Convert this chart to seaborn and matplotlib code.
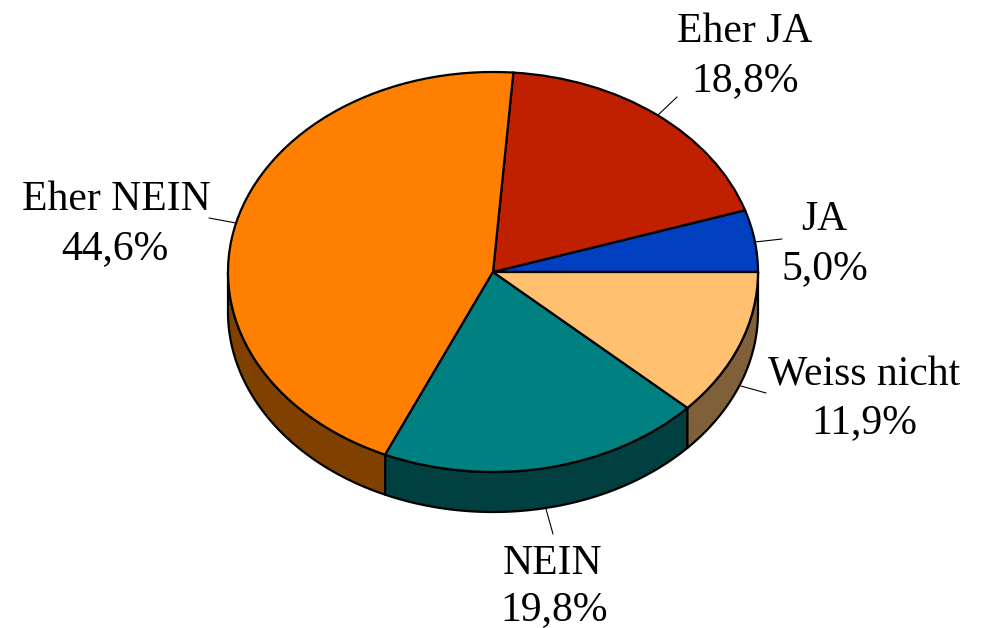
import numpy as np
import matplotlib
matplotlib.use("Agg")
import matplotlib.pyplot as plt
import seaborn as sns

labels = ["JA", "Eher JA", "Eher NEIN", "NEIN", "Weiss nicht"]
pct_text = ["5,0%", "18,8%", "44,6%", "19,8%", "11,9%"]
values = [5.0, 18.8, 44.6, 19.8, 11.9]
top_colors = ["#0040C0", "#C02000", "#FF8000", "#008080", "#FFC070"]
side_colors = ["#002060", "#601000", "#804000", "#004040", "#806038"]

# layout in reference pixels
W, H = 981, 628
CX, CY, RX, RY, DEPTH = 493, 272, 265, 200, 40
name_x = [824, 745, 116, 553, 864]
pct_x = [825, 745, 115, 554, 864]
name_base = [230, 42, 210, 574, 385]
pct_base = [279, 91, 259, 620, 433]
leaders = [((755, 242), (782, 239)), ((658, 115), (677, 97)),
           ((236, 223), (209, 218)), ((546, 509), (553, 534)),
           ((741, 386), (766, 393))]

sns.set_theme(style="white")
plt.rcParams["font.family"] = ["Liberation Serif", "DejaVu Serif"]

fig = plt.figure(figsize=(W / 100, H / 100), dpi=100, facecolor="white")
ax = fig.add_axes([0, 0, 1, 1])


def px(x, y):
    return (x - CX) / RX, (CY - y) / RY


d = DEPTH / RY
wedges, _ = ax.pie(values, colors=top_colors, startangle=0, counterclock=True,
                   wedgeprops=dict(edgecolor="black", linewidth=1.6, zorder=5),
                   normalize=True)
ax.set_aspect("auto")
ax.set_xlim(-CX / RX, (W - CX) / RX)
ax.set_ylim((CY - H) / RY, CY / RY)

# extruded rim: lower half of each wedge
for w, col in zip(wedges, side_colors):
    a, b = max(w.theta1, 180), min(w.theta2, 360)
    if b <= a:
        continue
    t = np.radians(np.linspace(a, b, 200))
    xs = np.r_[np.cos(t), np.cos(t[::-1])]
    ys = np.r_[np.sin(t), np.sin(t[::-1]) - d]
    ax.fill(xs, ys, facecolor=col, edgecolor="black", linewidth=1.6, zorder=2,
            joinstyle="round", clip_on=False)

for (p0, p1) in leaders:
    a0, a1 = px(*p0), px(*p1)
    ax.plot([a0[0], a1[0]], [a0[1], a1[1]], color="black", lw=0.8, zorder=1)

for name, pct, x1, x2, y1, y2 in zip(labels, pct_text, name_x, pct_x, name_base, pct_base):
    ax.text(*px(x1, y1), name, ha="center", va="baseline", fontsize=30, color="black")
    ax.text(*px(x2, y2), pct, ha="center", va="baseline", fontsize=30, color="black")

fig.savefig("out.png", dpi=100, facecolor="white")
